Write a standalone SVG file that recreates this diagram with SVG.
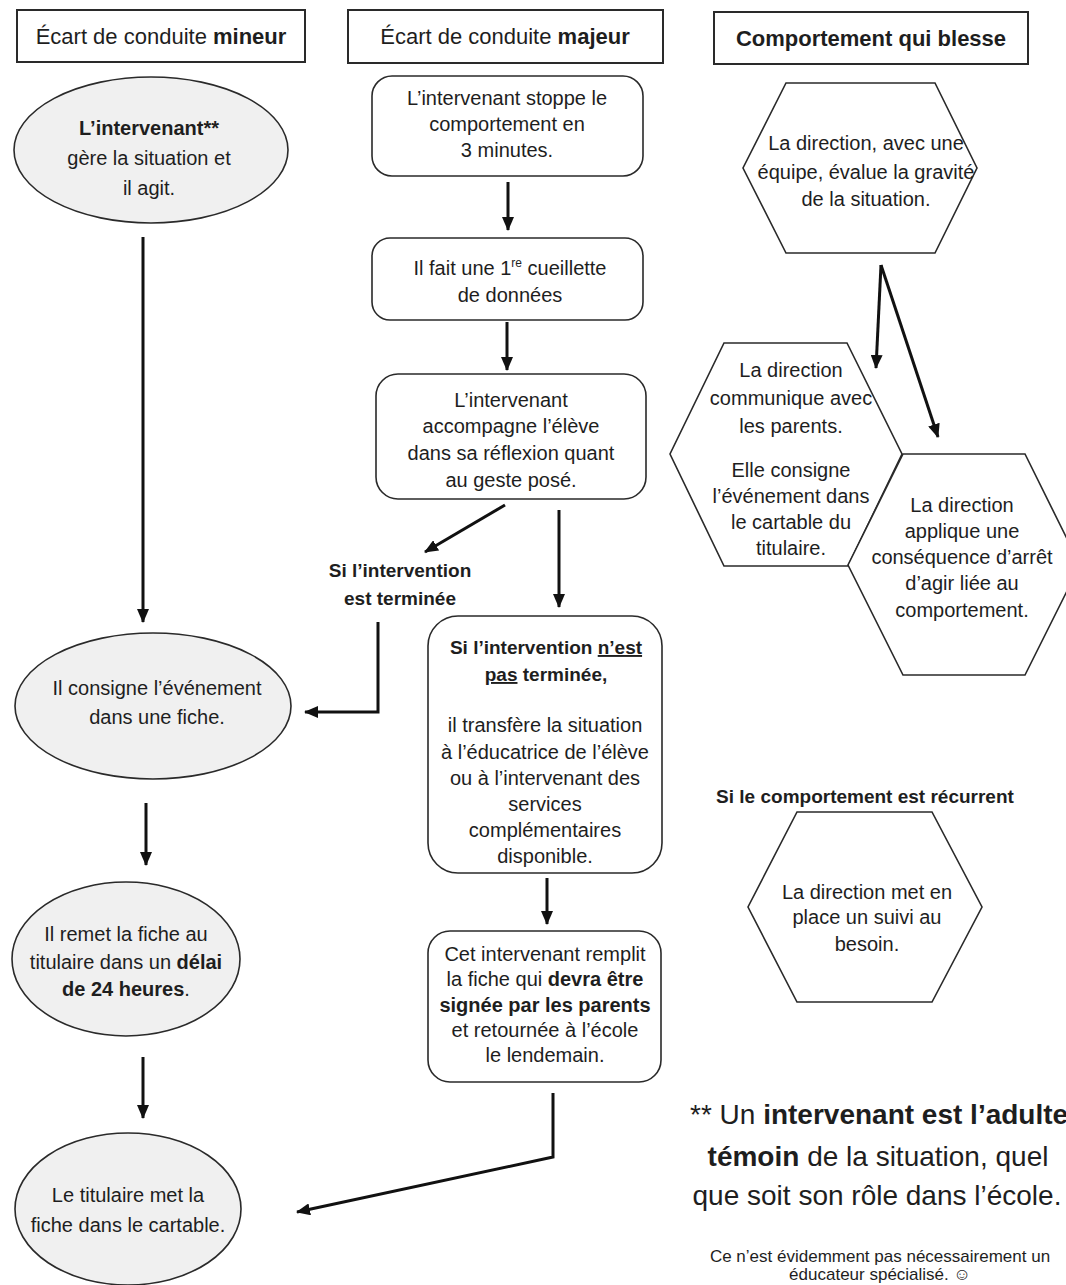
<svg xmlns="http://www.w3.org/2000/svg" width="1066" height="1285" viewBox="0 0 1066 1285">
<style>
text{font-family:"Liberation Sans",Arial,sans-serif;fill:#1e1e1e;font-size:20px;text-anchor:middle}
.b{font-weight:bold}
.h{font-size:22px}
.lbl{font-size:19px;font-weight:bold}
.hdr{fill:#fff;stroke:#2a2a2a;stroke-width:2}
.rr{fill:#fff;stroke:#2a2a2a;stroke-width:1.6}
.el{fill:#f0f0f0;stroke:#2a2a2a;stroke-width:1.6}
.hx{fill:#fff;stroke:#2a2a2a;stroke-width:1.6}
.c{fill:none;stroke:#111;stroke-width:3;marker-end:url(#ah)}
.fn{font-size:28px;text-anchor:start}
.sm{font-size:17px}
</style>
<defs>
<marker id="ah" viewBox="0 0 14 12" markerWidth="14" markerHeight="12" refX="13" refY="6" orient="auto" markerUnits="userSpaceOnUse">
<path d="M0,0 L14,6 L0,12 z" fill="#111"/>
</marker>
</defs>
<rect width="1066" height="1285" fill="#fff"/>

<g id="connectors">
<line class="c" x1="143" y1="237" x2="143" y2="622"/>
<line class="c" x1="146" y1="803" x2="146" y2="865"/>
<line class="c" x1="143" y1="1057" x2="143" y2="1118"/>
<line class="c" x1="508" y1="182" x2="508" y2="230"/>
<line class="c" x1="507" y1="322" x2="507" y2="370"/>
<line class="c" x1="505" y1="505" x2="425" y2="552"/>
<line class="c" x1="559" y1="510" x2="559" y2="607"/>
<polyline class="c" points="378,622 378,712 305,712"/>
<line class="c" x1="547" y1="878" x2="547" y2="924"/>
<polyline class="c" points="553,1093 553,1157 297,1212"/>
<line class="c" x1="881" y1="265" x2="876" y2="368"/>
<line class="c" x1="881" y1="265" x2="938" y2="437"/>
</g>

<g id="hdr-mineur">
<rect class="hdr" x="17" y="10" width="288" height="52"/>
<text class="h" x="161" y="44">Écart de conduite <tspan class="b">mineur</tspan></text>
</g>
<g id="hdr-majeur">
<rect class="hdr" x="348" y="10" width="315" height="53"/>
<text class="h" x="505" y="44">Écart de conduite <tspan class="b">majeur</tspan></text>
</g>
<g id="hdr-blesse">
<rect class="hdr" x="714" y="12" width="314" height="52"/>
<text class="h b" x="871" y="46">Comportement qui blesse</text>
</g>

<g id="e1">
<ellipse class="el" cx="151" cy="150" rx="137" ry="73"/>
<text x="149" y="135" class="b">L’intervenant**</text>
<text x="149" y="165">gère la situation et</text>
<text x="149" y="195">il agit.</text>
</g>
<g id="e2">
<ellipse class="el" cx="153" cy="706" rx="138" ry="73"/>
<text x="157" y="695">Il consigne l’événement</text>
<text x="157" y="724">dans une fiche.</text>
</g>
<g id="e3">
<ellipse class="el" cx="126" cy="959" rx="114" ry="77"/>
<text x="126" y="941">Il remet la fiche au</text>
<text x="126" y="969">titulaire dans un <tspan class="b">délai</tspan></text>
<text x="126" y="996"><tspan class="b">de 24 heures</tspan>.</text>
</g>
<g id="e4">
<ellipse class="el" cx="128" cy="1209" rx="113" ry="76"/>
<text x="128" y="1202">Le titulaire met la</text>
<text x="128" y="1232">fiche dans le cartable.</text>
</g>

<g id="rA">
<rect class="rr" x="372" y="76" width="271" height="100" rx="20"/>
<text x="507" y="105">L’intervenant stoppe le</text>
<text x="507" y="131">comportement en</text>
<text x="507" y="157">3 minutes.</text>
</g>
<g id="rB">
<rect class="rr" x="372" y="238" width="271" height="82" rx="18"/>
<text x="510" y="275">Il fait une 1<tspan font-size="12" dy="-8">re</tspan><tspan dy="8"> cueillette</tspan></text>
<text x="510" y="302">de données</text>
</g>
<g id="rC">
<rect class="rr" x="376" y="374" width="270" height="125" rx="22"/>
<text x="511" y="407">L’intervenant</text>
<text x="511" y="433">accompagne l’élève</text>
<text x="511" y="460">dans sa réflexion quant</text>
<text x="511" y="487">au geste posé.</text>
</g>
<g id="lbl-terminee">
<text class="lbl" x="400" y="577">Si l’intervention</text>
<text class="lbl" x="400" y="605">est terminée</text>
</g>
<g id="rD">
<rect class="rr" x="428" y="616" width="234" height="257" rx="30"/>
<text class="lbl" x="546" y="654">Si l’intervention <tspan text-decoration="underline">n’est</tspan></text>
<text class="lbl" x="546" y="681"><tspan text-decoration="underline">pas</tspan> terminée,</text>
<text x="545" y="732">il transfère la situation</text>
<text x="545" y="759">à l’éducatrice de l’élève</text>
<text x="545" y="785">ou à l’intervenant des</text>
<text x="545" y="811">services</text>
<text x="545" y="837">complémentaires</text>
<text x="545" y="863">disponible.</text>
</g>
<g id="rE">
<rect class="rr" x="428" y="931" width="233" height="151" rx="22"/>
<text x="545" y="961">Cet intervenant remplit</text>
<text x="545" y="986">la fiche qui <tspan class="b">devra être</tspan></text>
<text x="545" y="1012" class="b">signée par les parents</text>
<text x="545" y="1037">et retournée à l’école</text>
<text x="545" y="1062">le lendemain.</text>
</g>

<g id="h1">
<polygon class="hx" points="786,83 935,83 977,168 935,253 786,253 743,168"/>
<text x="866" y="150">La direction, avec une</text>
<text x="866" y="179">équipe, évalue la gravité</text>
<text x="866" y="206">de la situation.</text>
</g>
<g id="h2">
<polygon class="hx" points="724,343 847,343 902,454 848,566 724,566 670,454"/>
<text x="791" y="377">La direction</text>
<text x="791" y="405">communique avec</text>
<text x="791" y="433">les parents.</text>
<text x="791" y="477">Elle consigne</text>
<text x="791" y="503">l’événement dans</text>
<text x="791" y="529">le cartable du</text>
<text x="791" y="555">titulaire.</text>
</g>
<g id="h3">
<polygon class="hx" points="903,454 1025,454 1080,565 1025,675 903,675 848,565"/>
<text x="962" y="512">La direction</text>
<text x="962" y="538">applique une</text>
<text x="962" y="564">conséquence d’arrêt</text>
<text x="962" y="590">d’agir liée au</text>
<text x="962" y="617">comportement.</text>
</g>
<g id="lbl-recurrent">
<text class="lbl" x="865" y="803">Si le comportement est récurrent</text>
</g>
<g id="h4">
<polygon class="hx" points="797,812 932,812 982,907 932,1002 797,1002 748,907"/>
<text x="867" y="899">La direction met en</text>
<text x="867" y="924">place un suivi au</text>
<text x="867" y="951">besoin.</text>
</g>

<g id="footnote">
<text class="fn" x="690" y="1124">** Un <tspan class="b">intervenant est l’adulte</tspan></text>
<text class="fn" x="878" y="1166" style="text-anchor:middle"><tspan class="b">témoin</tspan> de la situation, quel</text>
<text class="fn" x="877" y="1205" style="text-anchor:middle">que soit son rôle dans l’école.</text>
<text class="sm" x="880" y="1262">Ce n’est évidemment pas nécessairement un</text>
<text class="sm" x="880" y="1280">éducateur spécialisé. ☺</text>
</g>
</svg>
